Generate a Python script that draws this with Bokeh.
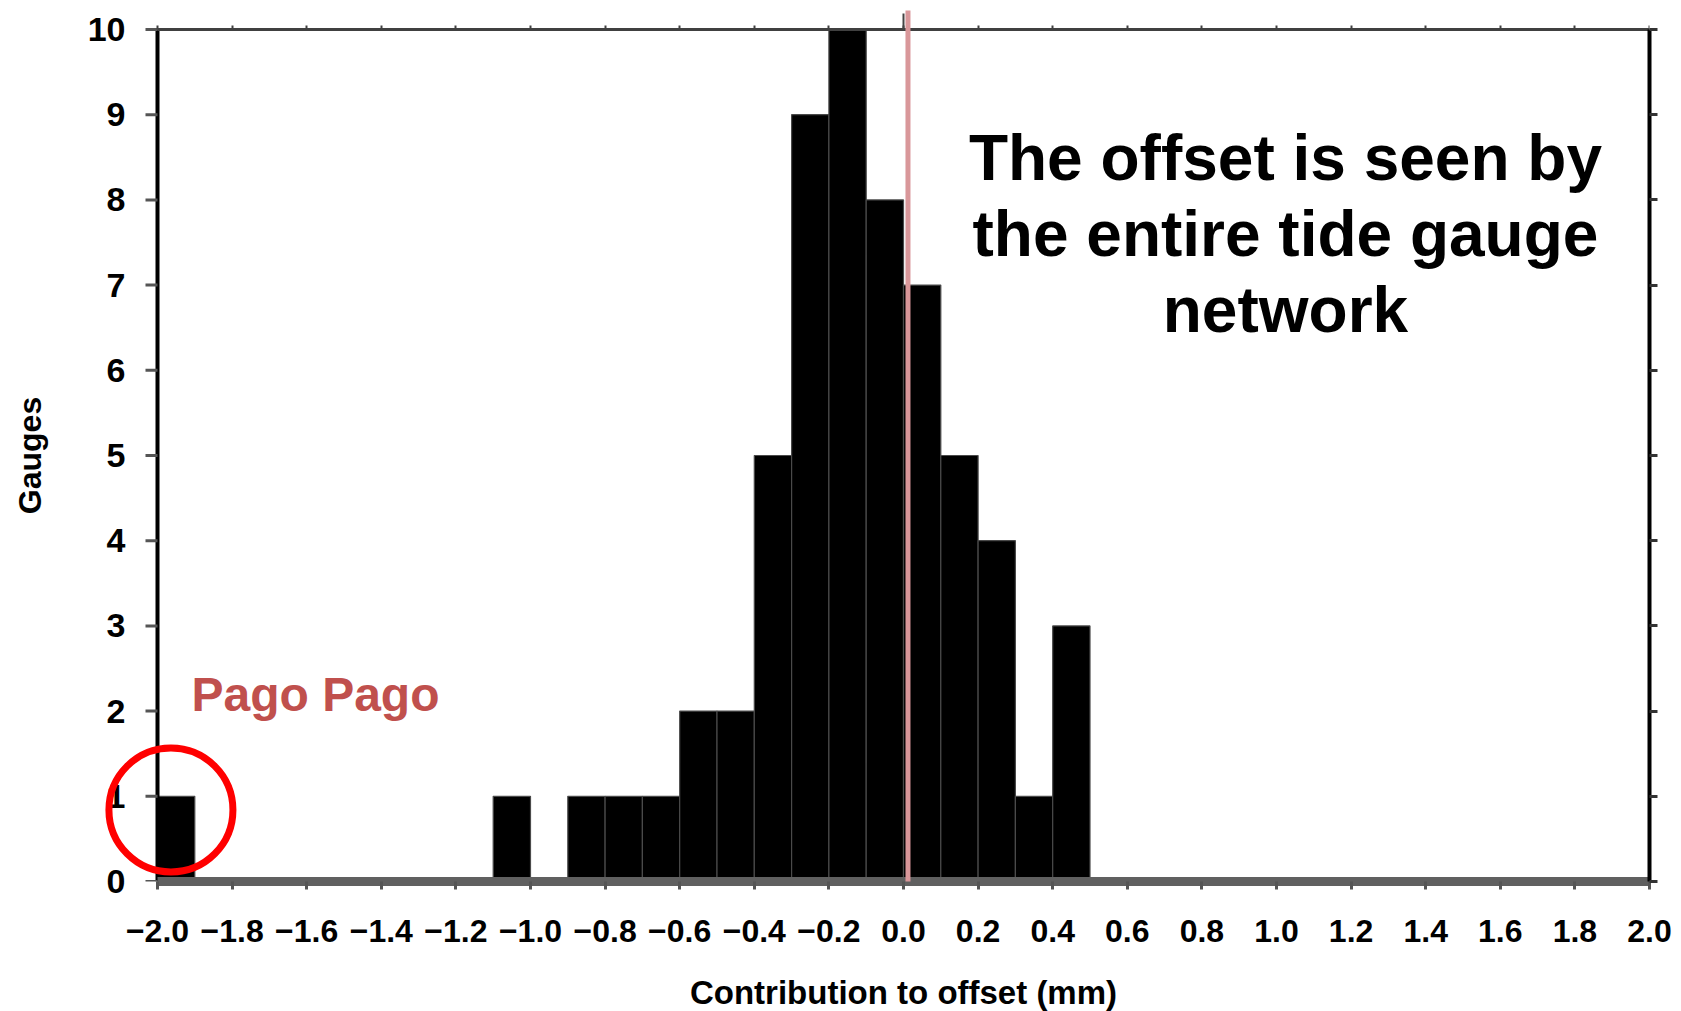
import numpy as np
from bokeh.plotting import figure
from bokeh.models import ColumnDataSource, LinearAxis, FixedTicker, Range1d, Label
from bokeh.core.properties import value
from bokeh.embed import file_html
from bokeh.resources import INLINE

# ---- data ----
bin_lefts = [-2.0, -1.1, -0.9, -0.8, -0.7, -0.6, -0.5, -0.4, -0.3, -0.2, -0.1, 0.0, 0.1, 0.2, 0.3, 0.4]
counts = [1, 1, 1, 1, 1, 2, 2, 5, 9, 10, 8, 7, 5, 4, 1, 3]
bin_width = 0.1

x_ticks = [-2.0, -1.8, -1.6, -1.4, -1.2, -1.0, -0.8, -0.6, -0.4, -0.2, 0.0,
           0.2, 0.4, 0.6, 0.8, 1.0, 1.2, 1.4, 1.6, 1.8, 2.0]
x_tick_labels = ["\u22122.0", "\u22121.8", "\u22121.6", "\u22121.4", "\u22121.2", "\u22121.0",
                 "\u22120.8", "\u22120.6", "\u22120.4", "\u22120.2", "0.0",
                 "0.2", "0.4", "0.6", "0.8", "1.0", "1.2", "1.4", "1.6", "1.8", "2.0"]
y_ticks = [0, 1, 2, 3, 4, 5, 6, 7, 8, 9, 10]
y_tick_labels = ["0", "1", "2", "3", "4", "5", "6", "7", "8", "9", "10"]
x_title = "Contribution to offset (mm)"
y_title = "Gauges"

X_MIN, X_MAX, Y_MIN, Y_MAX = -2.0, 2.0, 0, 10
offset_x = 0.012          # pink reference line
note_lines = ["The offset is seen by", "the entire tide gauge", "network"]
note_x = [1.024, 1.024, 1.024]
note_y = [8.49, 7.60, 6.71]
pago_label = "Pago Pago"
pago_x, pago_y = -1.909, 2.19
circle_x, circle_y = [-1.964], [0.84]

FONT = "Liberation Sans"

# ---- geometry of the frame (pixels) ----
PX_PER_X = 373.0
PX_PER_Y = 85.2
LEFT_GAP = 157          # pixels from page edge to x = -2.0
TOP_GAP = 19            # frame extends this many pixels above y = 10

x_start = X_MIN - LEFT_GAP / PX_PER_X
y_end = Y_MAX + TOP_GAP / PX_PER_Y

src = ColumnDataSource(dict(
    left=bin_lefts,
    right=[b + bin_width for b in bin_lefts],
    top=counts,
    bottom=[0] * len(counts),
))

p = figure(width=1681, height=1011, output_backend="svg", toolbar_location=None,
           x_range=Range1d(x_start, X_MAX), y_range=Range1d(Y_MIN, y_end),
           min_border_left=0, min_border_right=32, min_border_top=10, min_border_bottom=130,
           x_axis_location=None, y_axis_location=None)
p.background_fill_color = "white"
p.border_fill_color = "white"
p.outline_line_color = None
p.xgrid.visible = False
p.ygrid.visible = False

p.quad(left="left", right="right", top="top", bottom="bottom", source=src,
       fill_color="black", line_color="#4a4a4a", line_width=1.2)

# ---- bottom axis ----
xb = LinearAxis(ticker=FixedTicker(ticks=x_ticks), bounds=(X_MIN, X_MAX),
                major_label_overrides={t: l for t, l in zip(x_ticks, x_tick_labels)})
xb.axis_line_color = "#606060"
xb.axis_line_width = 9
xb.major_tick_line_color = "#555555"
xb.major_tick_line_width = 3
xb.major_tick_out = 8
xb.major_tick_in = 0
xb.minor_tick_line_color = None
xb.major_label_standoff = 30
xb.major_label_text_font = FONT
xb.major_label_text_font_style = "bold"
xb.major_label_text_font_size = "32px"
xb.major_label_text_color = "black"
p.add_layout(xb, "below")

# x axis title placed in the bottom panel
p.add_layout(Label(x=(X_MIN + X_MAX) / 2, y=Y_MIN - 111 / PX_PER_Y, text=x_title,
                   text_font=FONT, text_font_style="bold", text_font_size="33px",
                   text_color="black", text_align="center", text_baseline="middle"), "below")

# ---- top axis (no labels), pinned at y = 10 ----
xt = LinearAxis(ticker=FixedTicker(ticks=x_ticks), bounds=(X_MIN, X_MAX), fixed_location=Y_MAX)
xt.axis_line_color = "#404040"
xt.axis_line_width = 3
xt.major_tick_line_color = "#404040"
xt.major_tick_line_width = 2
xt.major_tick_out = 4
xt.major_tick_in = 0
xt.minor_tick_line_color = None
xt.major_label_text_font_size = "1px"
xt.major_label_text_color = None
xt.major_label_standoff = 0
p.add_layout(xt, "above")

# ---- right axis (no labels) ----
yr = LinearAxis(ticker=FixedTicker(ticks=y_ticks), bounds=(Y_MIN, Y_MAX))
yr.axis_line_color = "black"
yr.axis_line_width = 4
yr.major_tick_line_color = "#333333"
yr.major_tick_line_width = 3
yr.major_tick_out = 8
yr.major_tick_in = 0
yr.minor_tick_line_color = None
yr.major_label_text_font_size = "1px"
yr.major_label_text_color = None
yr.major_label_standoff = 0
p.add_layout(yr, "right")

# ---- left axis drawn at x = -2.0 (frame extends further left for the circle) ----
y_tick_len = 12 / PX_PER_X
p.segment(x0=[X_MIN], y0=[Y_MIN], x1=[X_MIN], y1=[Y_MAX], line_color="black", line_width=4)
p.segment(x0=[X_MIN] * len(y_ticks), y0=y_ticks, x1=[X_MIN - y_tick_len] * len(y_ticks), y1=y_ticks,
          line_color="#555555", line_width=3)
# tick labels above the frame bottom as glyphs ...
p.text(x=[X_MIN] * (len(y_ticks) - 1), y=y_ticks[1:], text=y_tick_labels[1:], x_offset=-32,
       text_font=value(FONT), text_font_style="bold", text_font_size="34px",
       text_align="right", text_baseline="middle", text_color="black")
# ... and the one sitting on the frame edge as an unclipped label
p.add_layout(Label(x=X_MIN, y=y_ticks[0], text=y_tick_labels[0], x_offset=-32,
                   text_font=FONT, text_font_style="bold", text_font_size="34px",
                   text_align="right", text_baseline="middle", text_color="black"), "right")
p.text(x=[X_MIN - (LEFT_GAP - 29) / PX_PER_X], y=[(Y_MIN + Y_MAX) / 2], text=[y_title], angle=np.pi / 2,
       text_font=value(FONT), text_font_style="bold", text_font_size="32px",
       text_align="center", text_baseline="middle", text_color="black")

# ---- tick at 0.0 poking out above the top axis ----
p.segment(x0=[0.0], y0=[Y_MAX], x1=[0.0], y1=[Y_MAX + 16 / PX_PER_Y],
          line_color="#444444", line_width=2, level="annotation")

# ---- pink reference line ----
p.segment(x0=[offset_x], y0=[Y_MIN], x1=[offset_x], y1=[y_end],
          line_color="#d9979a", line_width=5, level="annotation")

p.text(x=note_x, y=note_y, text=note_lines, text_font=value(FONT), text_font_style="bold",
       text_font_size="64px", text_align="center", text_baseline="alphabetic", text_color="black")

p.text(x=[pago_x], y=[pago_y], text=[pago_label], text_font=value(FONT), text_font_style="bold",
       text_font_size="48px", text_color="#c0504d", text_align="left", text_baseline="alphabetic")

p.scatter(x=circle_x, y=circle_y, size=124, marker="circle", fill_color=None,
          line_color="#ff0000", line_width=7, level="annotation")

open("out.html", "w").write(file_html(p, INLINE))
